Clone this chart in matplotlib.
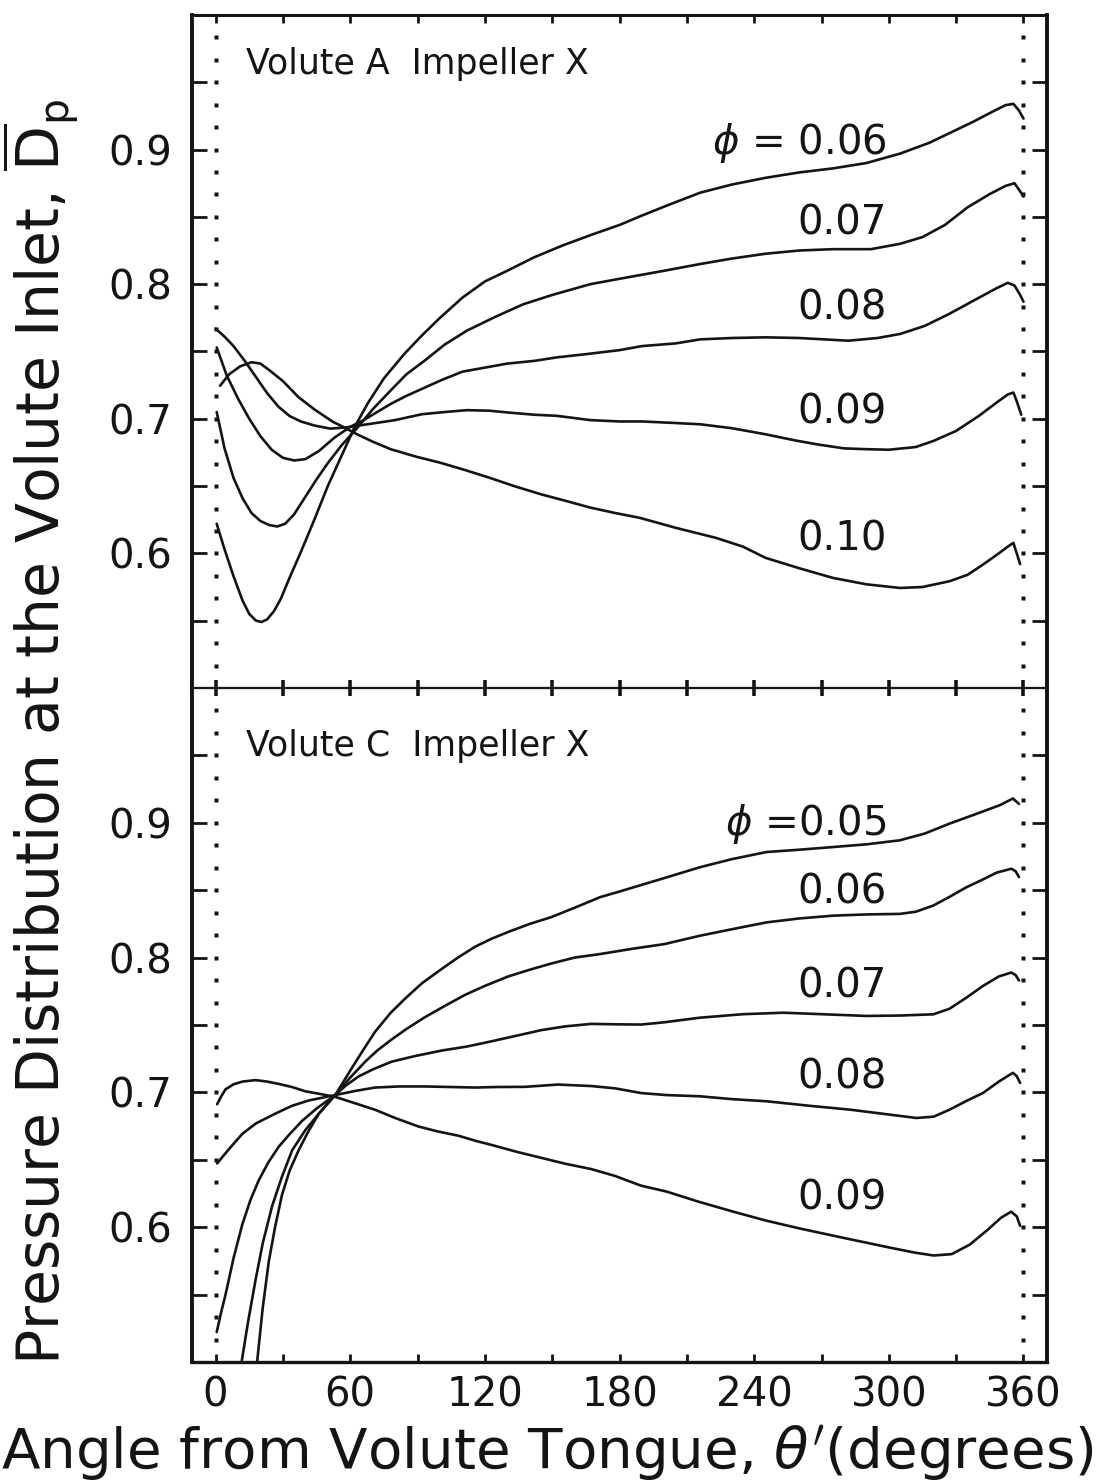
import numpy as np
import matplotlib
matplotlib.use('Agg')
import matplotlib.pyplot as plt

plt.rcParams['font.family'] = ['DejaVu Sans']
plt.rcParams['mathtext.fontset'] = 'dejavusans'

# ---- Volute A, Impeller X (top panel) ----
a_006_deg = [0.5, 4, 8, 12, 15, 18, 20.5, 23, 26, 29, 33, 38, 44, 50, 56, 62, 68, 75, 84, 92,
             100, 110, 120, 130, 142, 155, 168, 180, 190, 202, 216, 230, 245, 260, 275, 290, 305,
             318, 328, 338, 346, 352, 355.5, 358, 360]
a_006_val = [0.622, 0.603, 0.583, 0.565, 0.555, 0.550, 0.549, 0.551, 0.557, 0.566, 0.582, 0.601,
             0.625, 0.650, 0.672, 0.694, 0.712, 0.730, 0.748, 0.762, 0.775, 0.790, 0.802, 0.810,
             0.820, 0.829, 0.837, 0.844, 0.851, 0.859, 0.868, 0.874, 0.879, 0.883, 0.886, 0.890,
             0.897, 0.905, 0.913, 0.921, 0.928, 0.933, 0.934, 0.929, 0.923]

a_007_deg = [0.5, 4, 8, 12, 16, 20, 24, 27.5, 31, 35, 40, 45, 50, 56, 63, 70, 78, 85, 93, 102,
             112, 125, 137, 150, 167, 180, 190, 200, 216, 230, 245, 260, 275, 292, 305, 315,
             325, 335, 345, 352, 356, 358.5, 360]
a_007_val = [0.705, 0.678, 0.656, 0.641, 0.630, 0.624, 0.621, 0.620, 0.622, 0.629, 0.642, 0.655,
             0.667, 0.680, 0.693, 0.707, 0.721, 0.733, 0.743, 0.755, 0.7655, 0.776, 0.785, 0.792,
             0.800, 0.804, 0.807, 0.810, 0.815, 0.819, 0.8226, 0.825, 0.826, 0.826, 0.830, 0.835,
             0.844, 0.857, 0.867, 0.873, 0.875, 0.869, 0.865]

a_008_deg = [0.5, 5, 10, 15, 20, 25, 30, 35, 40, 46, 53, 60, 66, 72, 78, 85, 93, 101, 110, 120,
             130, 142, 152, 165, 180, 190, 205, 216, 230, 245, 260, 282, 295, 305, 316, 327, 338,
             348, 353, 356, 358.5, 360]
a_008_val = [0.753, 0.732, 0.715, 0.700, 0.687, 0.677, 0.671, 0.669, 0.670, 0.676, 0.686, 0.694,
             0.699, 0.705, 0.711, 0.717, 0.723, 0.729, 0.735, 0.738, 0.741, 0.743, 0.7456, 0.748,
             0.751, 0.754, 0.756, 0.759, 0.760, 0.7605, 0.760, 0.758, 0.760, 0.763, 0.769, 0.778,
             0.788, 0.797, 0.801, 0.799, 0.792, 0.787]

a_009_deg = [0, 4, 8, 13, 18, 23, 28, 33, 38, 44, 51, 58, 64, 72, 80, 92, 102, 112, 122, 130,
             142, 152, 167, 180, 190, 203, 216, 230, 245, 258, 268, 280, 290, 300, 312, 320, 330,
             340, 348, 353, 355.5, 357, 359]
a_009_val = [0.767, 0.761, 0.754, 0.743, 0.731, 0.719, 0.709, 0.702, 0.698, 0.695, 0.6927, 0.6935,
             0.695, 0.697, 0.699, 0.7034, 0.705, 0.7064, 0.706, 0.7047, 0.703, 0.7022, 0.699,
             0.698, 0.698, 0.697, 0.6959, 0.693, 0.6885, 0.684, 0.681, 0.678, 0.6774, 0.677,
             0.679, 0.6836, 0.691, 0.702, 0.712, 0.718, 0.7195, 0.713, 0.703]

a_010_deg = [2, 6, 11, 16, 20, 24, 30, 37, 44, 52, 58, 63, 70, 78, 89, 100, 111, 122, 133, 145,
             156, 167, 178, 189, 205, 223, 235, 245, 260, 275, 290, 305, 315, 327, 335, 342, 349,
             353, 355.5, 357, 358.5]
a_010_val = [0.7245, 0.733, 0.739, 0.742, 0.741, 0.736, 0.728, 0.716, 0.707, 0.698, 0.693, 0.6885,
             0.683, 0.6774, 0.672, 0.6674, 0.662, 0.6562, 0.650, 0.6439, 0.639, 0.634, 0.630,
             0.6264, 0.619, 0.6115, 0.605, 0.5967, 0.589, 0.5818, 0.577, 0.5743, 0.575, 0.5793,
             0.584, 0.5917, 0.600, 0.605, 0.6078, 0.600, 0.592]

# ---- Volute C, Impeller X (bottom panel) ----
c_005_deg = [18.5, 21, 23.7, 26.5, 29.6, 33, 37, 41, 45.9, 53.3, 60.7, 66, 71, 78, 84.4, 92,
             100.7, 108, 115.6, 123, 130.4, 140, 149.6, 161.5, 171.3, 180, 190, 200, 215.8, 230,
             245.5, 260, 275.2, 290, 304.9, 316, 327.1, 338, 349.4, 355.3, 358]
c_005_val = [0.500, 0.540, 0.5745, 0.600, 0.624, 0.642, 0.657, 0.670, 0.684, 0.698, 0.718, 0.732,
             0.7448, 0.759, 0.7695, 0.781, 0.7915, 0.800, 0.808, 0.814, 0.819, 0.825, 0.830,
             0.838, 0.8448, 0.849, 0.854, 0.859, 0.867, 0.873, 0.8783, 0.880, 0.882, 0.884,
             0.887, 0.892, 0.8994, 0.906, 0.913, 0.918, 0.914]

c_006_deg = [11.6, 14.5, 17.8, 21, 25.2, 29.5, 34.1, 40, 45.9, 53.3, 60, 66.7, 72, 78.5, 85,
             93.3, 102, 111.1, 120, 130.4, 140, 149.6, 160, 171.3, 186, 200, 215.8, 230, 245.5,
             260, 275.2, 290, 304.9, 312, 319.8, 327, 334.6, 342, 348, 354.6, 356.5, 358]
c_006_val = [0.500, 0.530, 0.5607, 0.588, 0.6157, 0.637, 0.657, 0.672, 0.684, 0.698, 0.711,
             0.7228, 0.731, 0.7393, 0.747, 0.7558, 0.764, 0.7723, 0.779, 0.786, 0.791, 0.7956,
             0.800, 0.8026, 0.8066, 0.810, 0.8162, 0.821, 0.8261, 0.829, 0.8311, 0.832, 0.8324,
             0.834, 0.8386, 0.845, 0.8522, 0.858, 0.863, 0.8659, 0.864, 0.8597]

c_007_deg = [0.5, 2.5, 4.4, 8, 11.9, 15.5, 19.3, 23.5, 28.1, 33, 38.5, 45, 53.3, 58, 63.7, 70,
             78.5, 89, 100.7, 112, 123, 134, 145.2, 156, 167.4, 178, 189.6, 200, 215.8, 235, 253,
             270, 290, 305, 319.8, 327, 334.6, 342, 349, 354.6, 356.5, 358]
c_007_val = [0.5222, 0.537, 0.5497, 0.577, 0.602, 0.620, 0.635, 0.648, 0.6596, 0.669, 0.6788,
             0.688, 0.698, 0.705, 0.7118, 0.717, 0.7228, 0.727, 0.731, 0.734, 0.7379, 0.742,
             0.7462, 0.749, 0.7508, 0.7505, 0.7503, 0.752, 0.7554, 0.758, 0.7591, 0.758, 0.7567,
             0.757, 0.7579, 0.762, 0.7703, 0.779, 0.786, 0.7889, 0.787, 0.783]

c_008_deg = [0.7, 3, 6, 11.9, 18, 26.7, 34, 41.5, 53.3, 62, 71.1, 82, 93.3, 104, 115.6, 126,
             137.8, 152.6, 167.4, 178, 189.6, 201, 215.8, 230, 245.5, 265, 282.6, 298, 312.3, 320,
             327.1, 335, 342, 349, 355.3, 357, 358.5]
c_008_val = [0.6473, 0.652, 0.658, 0.6692, 0.677, 0.6843, 0.690, 0.694, 0.698, 0.701, 0.7036,
             0.7044, 0.7044, 0.704, 0.7036, 0.704, 0.7041, 0.7058, 0.7047, 0.703, 0.6995, 0.698,
             0.6971, 0.695, 0.6934, 0.690, 0.6872, 0.684, 0.681, 0.682, 0.6872, 0.694, 0.6996,
             0.708, 0.7145, 0.712, 0.707]

c_009_deg = [0.7, 2.5, 4.4, 8, 12, 17.8, 23, 28.1, 34, 40, 46, 53.3, 62, 71.1, 80, 90.4, 99,
             108.1, 116, 123, 134, 145.2, 156, 167.4, 178, 189.6, 201, 215, 230.7, 245, 260.4,
             280, 300, 312, 320, 328, 336, 344, 350, 354.5, 357, 358.5]
c_009_val = [0.6912, 0.697, 0.7022, 0.706, 0.708, 0.7091, 0.708, 0.7063, 0.704, 0.7008, 0.699,
             0.6967, 0.692, 0.6871, 0.681, 0.6747, 0.671, 0.6679, 0.664, 0.661, 0.656, 0.6514,
             0.647, 0.6431, 0.638, 0.6308, 0.6264, 0.619, 0.6115, 0.605, 0.599, 0.592, 0.585,
             0.581, 0.579, 0.580, 0.587, 0.598, 0.607, 0.6115, 0.608, 0.601]

panels = [
    dict(title='Volute A  Impeller X', title_y=0.9635,
         curves=[(a_006_deg, a_006_val), (a_007_deg, a_007_val), (a_008_deg, a_008_val),
                 (a_009_deg, a_009_val), (a_010_deg, a_010_val)],
         labels=[(r'$\phi$ = 0.06', 0.905), ('0.07', 0.845), ('0.08', 0.7816),
                 ('0.09', 0.7046), ('0.10', 0.6103)]),
    dict(title='Volute C  Impeller X', title_y=0.957,
         curves=[(c_005_deg, c_005_val), (c_006_deg, c_006_val), (c_007_deg, c_007_val),
                 (c_008_deg, c_008_val), (c_009_deg, c_009_val)],
         labels=[(r'$\phi$ =0.05', 0.8994), ('0.06', 0.8485), ('0.07', 0.7785),
                 ('0.08', 0.7107), ('0.09', 0.621)]),
]

ink = '#141414'
fig = plt.figure(figsize=(11.01, 14.83), dpi=100)
ax_top = fig.add_axes([0.1744, 0.5361, 0.7766, 0.4538])
ax_bot = fig.add_axes([0.1744, 0.0816, 0.7766, 0.4545])

yticks = np.round(np.arange(0.55, 0.951, 0.05), 2)
ylabels = ['%.1f' % t if round(t * 100) % 10 == 0 else '' for t in yticks]
xticks = np.arange(0, 361, 30)
xlabels = [str(t) if t % 60 == 0 else '' for t in xticks]
dots = 0.5 + np.arange(1, 30) * (0.05 / 3)

for ax, p in zip([ax_top, ax_bot], panels):
    ax.set_xlim(-10.5, 370.5)
    ax.set_ylim(0.5, 1.0)
    for d, v in p['curves']:
        ax.plot(d, v, color=ink, lw=1.9, solid_capstyle='round', solid_joinstyle='round')
    # dotted reference lines at 0 and 360 degrees
    for xd in (0, 360):
        ax.plot(np.full(len(dots), xd), dots, ls='none', marker='s', ms=3.0, color=ink, mec='none')
    ax.text(13.5, p['title_y'], p['title'], fontsize=25, color=ink, ha='left', va='center')
    for s, yv in p['labels']:
        ax.text(299, yv, s, fontsize=29, color=ink, ha='right', va='center')
    ax.set_yticks(yticks)
    ax.set_yticklabels(ylabels)
    ax.set_xticks(xticks)
    ax.tick_params(axis='y', which='both', direction='in', length=11, width=2.0, left=True,
                   right=True, labelsize=29, pad=14, colors=ink)
    for sp in ax.spines.values():
        sp.set_color(ink)
    ax.spines['left'].set_linewidth(2.8)
    ax.spines['right'].set_linewidth(2.8)

ax_top.spines['top'].set_linewidth(2.2)
ax_top.spines['bottom'].set_visible(False)
ax_bot.spines['top'].set_linewidth(1.6)
ax_bot.spines['bottom'].set_linewidth(2.4)

ax_top.tick_params(axis='x', direction='in', top=True, bottom=False, length=6, width=2.0,
                   labelbottom=False, colors=ink)
ax_bot.tick_params(axis='x', direction='in', top=False, bottom=True, length=6, width=2.0,
                   labelsize=29, pad=10, colors=ink)
ax_bot.set_xticklabels(xlabels)
# ticks crossing the shared middle border
for t in xticks:
    ax_bot.plot([t, t], [0.994, 1.006], color=ink, lw=2.6, clip_on=False, solid_capstyle='butt')

fig.text(0.497, 0.0101, r"Angle from Volute Tongue, $\theta'$(degrees)", fontsize=40.5, color=ink,
         ha='center', va='baseline')
fig.text(0.037, 0.0796, r'Pressure Distribution at the Volute Inlet, $\overline{\mathrm{D}}_{\mathrm{p}}$',
         fontsize=42, color=ink, rotation=90, ha='center', va='bottom')

fig.savefig('out.png', dpi=100)
